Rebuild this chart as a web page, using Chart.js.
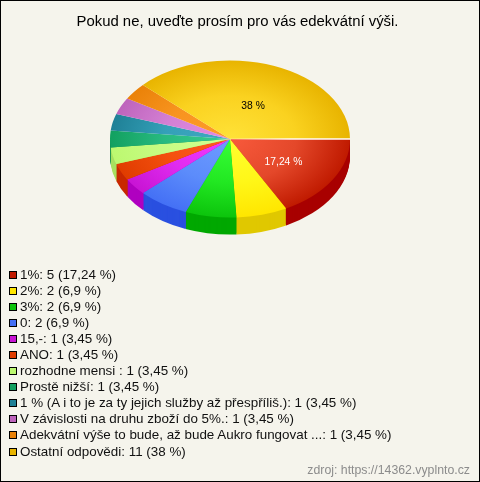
<!DOCTYPE html>
<html>
<head>
<meta charset="utf-8">
<title>Pokud ne</title>
<script src="https://cdn.jsdelivr.net/npm/chart.js@4"></script>
<style>
    html, body { margin: 0; padding: 0; background: #f5f4ec; }
    #wrap { position: relative; width: 480px; height: 482px; overflow: hidden; font-family: "Liberation Sans", Arial, sans-serif; }
    #frame { position: absolute; left: 0; top: 0; width: 478px; height: 480px; border: 1px solid #000; pointer-events: none; }
    #legend { position: absolute; left: 9px; top: 266.5px; color: #111; font-size: 13.4px; }
    .row { height: 16.1px; line-height: 16.1px; white-space: nowrap; position: relative; padding-left: 11px; }
    .box { position: absolute; left: 0; top: 4px; width: 6px; height: 6px; border: 1px solid #000; }
    #source { position: absolute; right: 10px; top: 463px; color: #8c8c8c; font-size: 12.3px; }
</style>
</head>
<body>
<div id="wrap">
    <canvas id="pie" width="480" height="482"></canvas>
    <div id="legend"></div>
    <div id="source">zdroj: https://14362.vyplnto.cz</div>
    <div id="frame"></div>
</div>
<script>
const chartTitle = "Pokud ne, uveďte prosím pro vás edekvátní výši.";
const categories = ["1%", "2%", "3%", "0", "15,-", "ANO", "rozhodne mensi ", "Prostě nižší",
    "1 % (A i to je za ty jejich služby až přespříliš.)", "V závislosti na druhu zboží do 5%.",
    "Adekvátní výše to bude, až bude Aukro fungovat ...", "Ostatní odpovědi"];
const counts = [5, 2, 2, 2, 1, 1, 1, 1, 1, 1, 1, 11];
const percents = ["17,24", "6,9", "6,9", "6,9", "3,45", "3,45", "3,45", "3,45", "3,45", "3,45", "3,45", "38"];
const edgeColors = ["#c01a00", "#ffe600", "#0cc40c", "#4470f5", "#c814d4", "#e03c00", "#bcf870", "#12a060", "#1f8096", "#be64bc", "#ea8208", "#e8b400"];
const middleColors = ["#e4482a", "#fff718", "#22e822", "#5c8cfb", "#e02cf0", "#f4500f", "#c8fc84", "#28ba80", "#34a0b8", "#d480d4", "#f89420", "#fad220"];
const centerColors = ["#f85a3c", "#ffff30", "#38ff38", "#6e9cff", "#f038ff", "#ff5a20", "#d0ff90", "#38cc90", "#40a8c0", "#e48ae4", "#ff9c28", "#ffe238"];
const sideColors = ["#a80000", "#e0c800", "#00a800", "#2a50e0", "#b000c0", "#c82800", "#a8e060", "#0c8a50", "#186a80", "#a050a0", "#c86c00", "#c89a00"];

// where the tilted pie sits and how flat it is
const pieX = 230, pieY = 139, flatten = 0.655, depth = 17;

function sliceFill(ctx) {
    const chart = ctx.chart, area = chart.chartArea;
    if (!area) return edgeColors[ctx.dataIndex];
    const x = (area.left + area.right) / 2, y = (area.top + area.bottom) / 2;
    const g = chart.ctx.createRadialGradient(x, y, 0, x, y, 120);
    g.addColorStop(0, centerColors[ctx.dataIndex]);
    g.addColorStop(0.55, middleColors[ctx.dataIndex]);
    g.addColorStop(1, edgeColors[ctx.dataIndex]);
    return g;
}

const tiltPlugin = {
    id: "tilt",
    beforeDatasetDraw(chart, args) {
        const c = chart.ctx, arcs = args.meta.data;
        const cx = arcs[0].x, cy = arcs[0].y;
        c.save();
        c.translate(pieX, pieY);
        c.scale(1, flatten);
        c.translate(-cx, -cy);
        // rim: copies of the front half of each slice, pushed down
        for (let d = depth; d >= 1; d--) {
            arcs.forEach((arc, i) => {
                const from = Math.max(arc.startAngle, 0), to = Math.min(arc.endAngle, Math.PI);
                if (from >= to) return;
                c.fillStyle = sideColors[i];
                c.beginPath();
                c.moveTo(cx, cy + d / flatten);
                c.arc(cx, cy + d / flatten, arc.outerRadius, from, to);
                c.closePath();
                c.fill();
            });
        }
    },
    afterDatasetDraw(chart, args) {
        const c = chart.ctx, arcs = args.meta.data;
        // thin light gap where the first slice starts
        const first = arcs[0];
        const g = c.createLinearGradient(first.x, 0, first.x + first.outerRadius, 0);
        g.addColorStop(0, "rgba(255,255,255,0.2)");
        g.addColorStop(0.5, "rgba(255,255,255,0.95)");
        g.addColorStop(1, "#ffffff");
        c.strokeStyle = g;
        c.lineWidth = 1.4 / flatten;
        c.beginPath();
        c.moveTo(first.x, first.y);
        c.lineTo(first.x + Math.cos(first.startAngle) * first.outerRadius, first.y + Math.sin(first.startAngle) * first.outerRadius);
        c.stroke();
        c.restore();
        c.textAlign = "center";
        c.textBaseline = "middle";
        c.font = "10.3px 'Liberation Sans', Arial, sans-serif";
        [0, 11].forEach(i => {
            const arc = arcs[i], mid = (arc.startAngle + arc.endAngle) / 2;
            c.fillStyle = i === 0 ? "#ffffff" : "#000000";
            c.fillText(percents[i] + " %",
                pieX + Math.cos(mid) * arc.outerRadius * 0.52,
                pieY + Math.sin(mid) * arc.outerRadius * 0.49 * flatten + 3);
        });
    }
};

new Chart(document.getElementById("pie"), {
    type: "pie",
    data: {
        labels: categories,
        datasets: [{
            data: counts,
            backgroundColor: sliceFill,
            borderWidth: 0,
            clip: false,
            radius: 120
        }]
    },
    options: {
        responsive: false,
        animation: false,
        rotation: 90,
        layout: { padding: { right: 5, bottom: 150 } },
        events: [],
        plugins: {
            legend: { display: false },
            tooltip: { enabled: false },
            title: {
                display: true,
                text: chartTitle,
                color: "#000",
                font: { family: "'Liberation Sans', Arial, sans-serif", size: 14.9, weight: "normal" },
                padding: { top: 13, bottom: 7 }
            }
        }
    },
    plugins: [tiltPlugin]
});

// legend rows
const legend = document.getElementById("legend");
categories.forEach((name, i) => {
    const row = document.createElement("div");
    row.className = "row";
    row.textContent = name + ": " + counts[i] + " (" + percents[i] + " %)";
    const box = document.createElement("span");
    box.className = "box";
    box.style.background = edgeColors[i];
    row.appendChild(box);
    legend.appendChild(row);
});
</script>
</body>
</html>
